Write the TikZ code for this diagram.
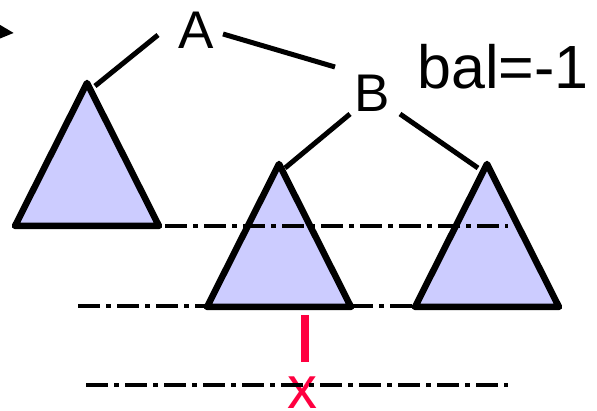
\documentclass[tikz,border=0pt]{standalone}
\usepackage{fontspec}
\setmainfont{Liberation Sans}
\usetikzlibrary{arrows.meta}
\definecolor{treefill}{RGB}{204,204,255}
\definecolor{hitred}{RGB}{255,0,64}

\begin{document}
\begin{tikzpicture}[x=1pt, y=-1pt,
	edge/.style={line width=5pt},
	subtree/.style={draw=black, fill=treefill, line width=6.5pt, line join=round},
	level/.style={line width=3.2pt, dash pattern=on 22pt off 6pt on 5pt off 6pt},
	lbl/.style={inner sep=0pt, anchor=base, font=\fontsize{53}{60}\selectfont}]
	\useasboundingbox (0,0) rectangle (597,411);
	% labels
	\node[lbl] (A) at (196,49) {A};
	\node[lbl] (B) at (372,112) {B};
	\node[lbl, anchor=base west, font=\fontsize{61}{68}\selectfont] (bal) at (417,89) {bal=-1};
	% incoming pointer, cut by the border
	\coordinate (in) at (-40,29);
	\coordinate (in tip) at (14,33);
	\draw[edge, -{Triangle[length=24pt, width=22pt]}] (in) -- (in tip);
	% subtrees
	\foreach \name/\x/\y in {left/87/83, mid/279/164, right/487/164}
		\filldraw[subtree] (\x,\y) coordinate (\name) -- ++(72,143) -- ++(-144,0) -- cycle;
	% edges
	\coordinate (A sw) at (158,35);
	\coordinate (A se) at (223,34);
	\coordinate (B n) at (335,67);
	\coordinate (B sw) at (350,114);
	\coordinate (B se) at (400,114);
	\draw[edge] ([xshift=8pt,yshift=-3pt]left) -- (A sw);
	\draw[edge] (A se) -- (B n);
	\draw[edge] ([xshift=6pt,yshift=-4pt]mid) -- (B sw);
	\draw[edge] (B se) -- ([xshift=-9pt,yshift=-4pt]right);
	% inserted node
	\coordinate (bar top) at (305,315);
	\coordinate (bar bot) at (305,362);
	\draw[hitred, line width=8pt] (bar top) -- (bar bot);
	\node[lbl, hitred, font=\fontsize{60}{66}\selectfont] (x) at (302,408) {x};
	% height levels
	\draw[level] (165,226) -- (508,226);
	\draw[level] (78,306) -- (510,306);
	\draw[level, dash phase=33pt] (80,385) -- (508,385);
\end{tikzpicture}
\end{document}
